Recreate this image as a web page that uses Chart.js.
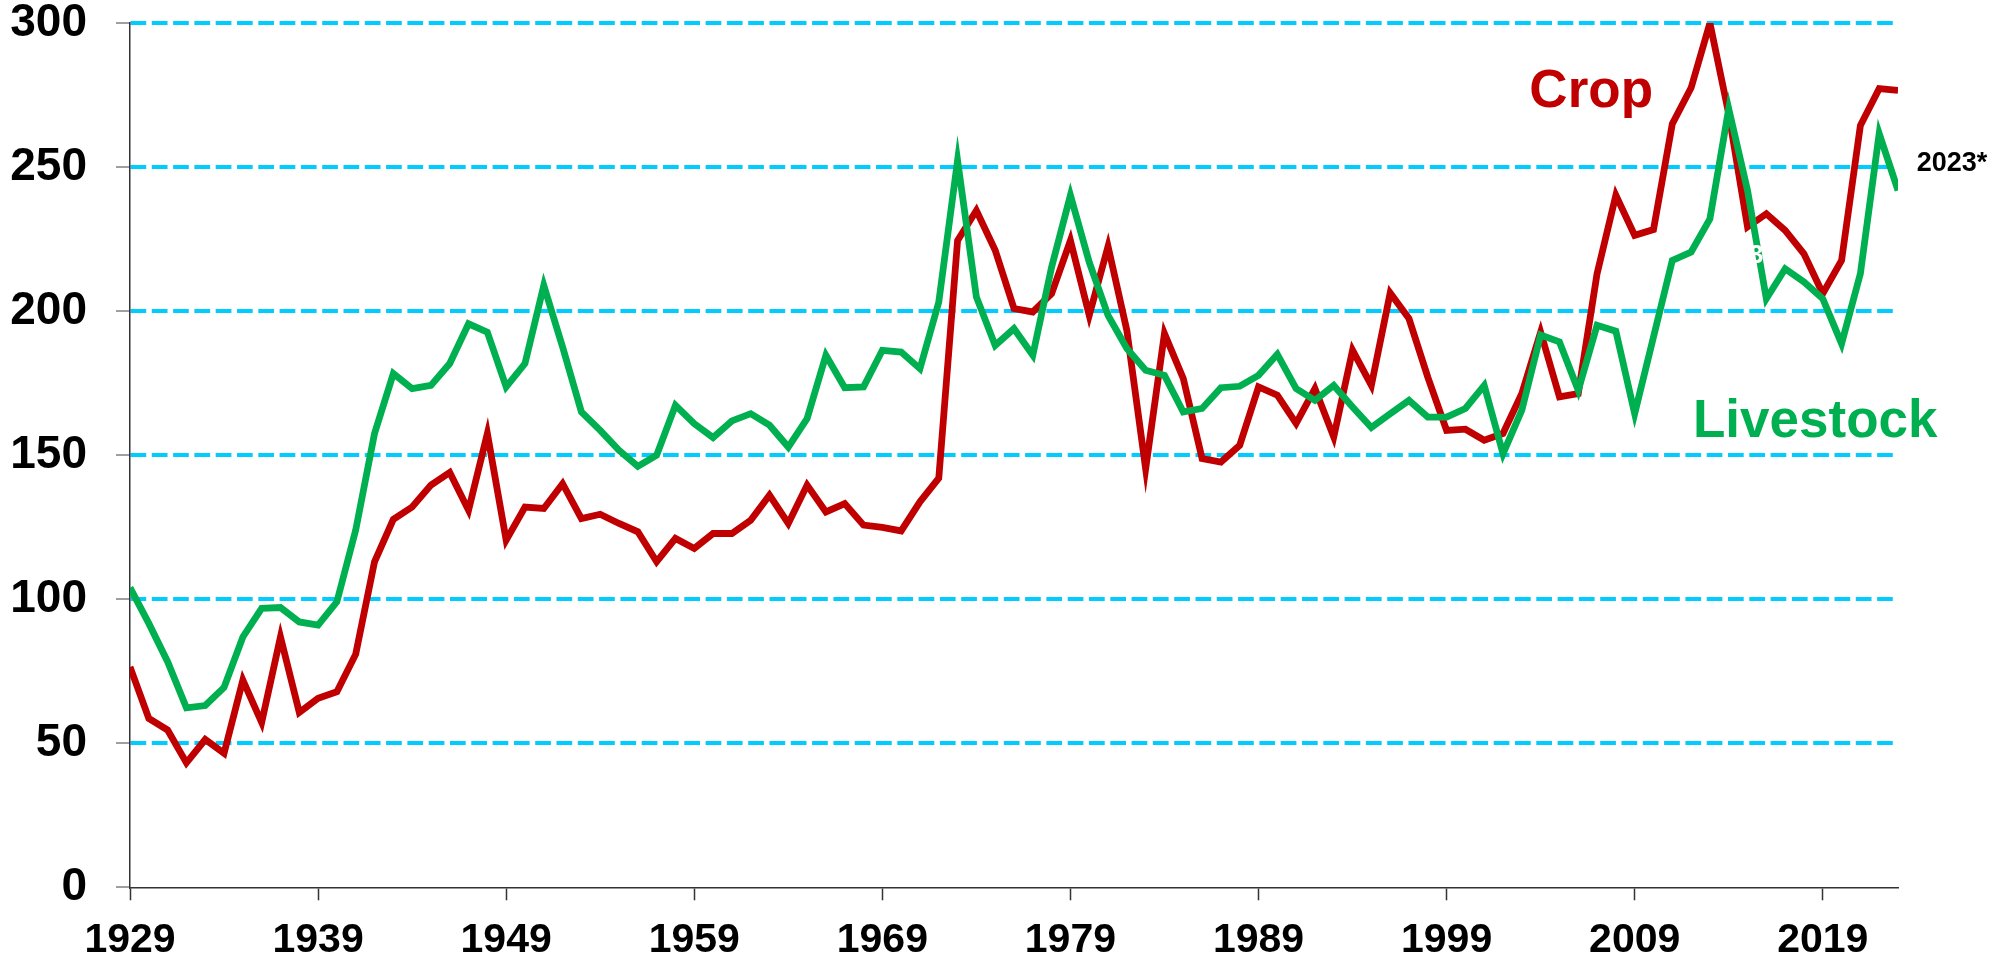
<!DOCTYPE html>
<html lang="en">
  <head>
    <meta charset="UTF-8" />
    <title>Crop and Livestock</title>
    <style>
      body {
        margin: 0;
        background: #ffffff;
      }
      canvas {
        display: block;
      }
    </style>
    <script src="https://cdn.jsdelivr.net/npm/chart.js@4"></script>
  </head>
  <body>
    <canvas id="farmChart" width="1995" height="961"></canvas>

    <script>
      const years = [
        1929, 1930, 1931, 1932, 1933, 1934, 1935, 1936, 1937, 1938,
        1939, 1940, 1941, 1942, 1943, 1944, 1945, 1946, 1947, 1948,
        1949, 1950, 1951, 1952, 1953, 1954, 1955, 1956, 1957, 1958,
        1959, 1960, 1961, 1962, 1963, 1964, 1965, 1966, 1967, 1968,
        1969, 1970, 1971, 1972, 1973, 1974, 1975, 1976, 1977, 1978,
        1979, 1980, 1981, 1982, 1983, 1984, 1985, 1986, 1987, 1988,
        1989, 1990, 1991, 1992, 1993, 1994, 1995, 1996, 1997, 1998,
        1999, 2000, 2001, 2002, 2003, 2004, 2005, 2006, 2007, 2008,
        2009, 2010, 2011, 2012, 2013, 2014, 2015, 2016, 2017, 2018,
        2019, 2020, 2021, 2022, 2023,
      ];

      const cropValues = [
        76.5, 58.6, 54.6, 43.2, 51.3, 46.5, 71.9, 57.2, 86.9, 60.7,
        65.6, 67.9, 80.9, 113, 127.7, 132, 139.6, 144, 130.9, 157.5,
        120.5, 132, 131.5, 140.1, 128, 129.5, 126.3, 123.4, 113, 121.1,
        117.6, 122.8, 122.8, 127.4, 136.1, 126.3, 139.6, 130.3, 133.2, 125.7,
        124.9, 123.7, 133.8, 142, 224.5, 234.9, 221.1, 200.9, 199.7, 206.1,
        224.5, 198.5, 222.5, 193.3, 145.3, 192.2, 176.6, 148.8, 147.6, 153.4,
        173.7, 170.8, 161, 173.1, 156.3, 186.4, 174.2, 206.3, 197.4, 177.1,
        158.6, 159, 155.2, 157.5, 171.4, 192.7, 170.2, 171.4, 213, 240.2,
        226.3, 228.3, 265, 277.5, 300, 268.5, 229.2, 233.8, 228, 219.9,
        206.1, 217.6, 264.4, 277.2, 276.6,
      ];

      const livestockValues = [
        104, 91.6, 78.3, 62.3, 63.1, 69.4, 86.9, 96.8, 97.1, 92.1,
        91, 99.1, 124, 157.5, 178.3, 173.1, 174.2, 181.8, 195.6, 192.7,
        173.7, 181.8, 208.9, 187.5, 165, 158.6, 151.7, 146.1, 150, 167.3,
        160.9, 156.1, 161.9, 164.4, 160.4, 152.8, 162.7, 184.7, 173.4, 173.7,
        186.4, 185.8, 180, 203.1, 252.3, 204.9, 188.1, 193.9, 184.7, 215.3,
        240.2, 217, 198.5, 187, 179.5, 177.7, 165, 166.2, 173.4, 173.9,
        177.7, 185, 173.1, 169, 174.2, 166.7, 159.6, 164.4, 169, 163.2,
        163.2, 166.2, 174.2, 150.5, 165.6, 191.7, 189.3, 172.5, 195.1, 193,
        164.4, 191, 217.6, 220.5, 232, 270.2, 241.9, 204.3, 214.7, 210.1,
        204.3, 188.7, 213, 261.6, 241.9,
      ];

      const xTickYears = [1929, 1939, 1949, 1959, 1969, 1979, 1989, 1999, 2009, 2019];
      const yTickValues = [0, 50, 100, 150, 200, 250, 300];

      const fontFamily = '"Liberation Sans", Arial, sans-serif';

      // text labels placed in data coordinates: [text, year, value, size, color]
      const chartLabels = [
        ["Crop", 2003.4, 270.7, 53, "#c00000"],
        ["Livestock", 2012.1, 156.2, 53, "#00b050"],
        ["2023*", 2024.0, 248.8, 27, "#000000"],
        ["3", 2015.1, 216.6, 25, "#ffffff"],
      ];

      const labelPlugin = {
        id: "seriesLabels",
        afterDatasetsDraw(chart) {
          const ctx = chart.ctx;
          const xs = chart.scales.x;
          const ys = chart.scales.y;
          ctx.save();
          ctx.textAlign = "left";
          ctx.textBaseline = "alphabetic";
          chartLabels.forEach(([text, year, value, size, color]) => {
            ctx.font = "bold " + size + "px " + fontFamily;
            ctx.fillStyle = color;
            ctx.fillText(text, xs.getPixelForValue(year), ys.getPixelForValue(value));
          });
          ctx.restore();
        },
      };

      const toPoints = (vals) => vals.map((v, i) => ({ x: years[i], y: v }));

      new Chart(document.getElementById("farmChart").getContext("2d"), {
        type: "line",
        data: {
          datasets: [
            {
              label: "Livestock",
              data: toPoints(livestockValues),
              borderColor: "#00b050",
              borderWidth: 6.8,
              pointRadius: 0,
              tension: 0,
              fill: false,
              order: 0,
            },
            {
              label: "Crop",
              data: toPoints(cropValues),
              borderColor: "#c00000",
              borderWidth: 6.8,
              pointRadius: 0,
              tension: 0,
              fill: false,
              order: 1,
            },
          ],
        },
        options: {
          responsive: false,
          animation: false,
          layout: { padding: { top: 23, right: 97, left: 0, bottom: 0 } },
          plugins: {
            legend: { display: false },
            tooltip: { enabled: false },
          },
          scales: {
            x: {
              type: "linear",
              min: 1929,
              max: 2023,
              afterBuildTicks: (scale) => {
                scale.ticks = xTickYears.map((v) => ({ value: v }));
              },
              afterFit: (scale) => {
                scale.height = 73.7;
                scale.paddingLeft = 0;
                scale.paddingRight = 0;
              },
              ticks: {
                autoSkip: false,
                maxRotation: 0,
                padding: 16,
                color: "#000000",
                font: { family: fontFamily, size: 41, weight: "bold" },
                callback: (v) => String(v),
              },
              grid: {
                drawOnChartArea: false,
                drawTicks: true,
                tickLength: 13,
                tickColor: "#333333",
                tickWidth: 1.5,
              },
              border: { display: true, color: "#333333", width: 1.5 },
            },
            y: {
              min: 0,
              max: 300,
              afterBuildTicks: (scale) => {
                scale.ticks = yTickValues.map((v) => ({ value: v }));
              },
              afterFit: (scale) => {
                scale.width = 130;
                scale.paddingTop = 0;
                scale.paddingBottom = 0;
              },
              ticks: {
                padding: 29,
                color: "#000000",
                font: { family: fontFamily, size: 46, weight: "bold" },
                callback: (v) => String(v),
              },
              grid: {
                color: (c) => (c.tick && c.tick.value === 0 ? "rgba(0,0,0,0)" : "#00ccff"),
                lineWidth: 4,
                drawTicks: true,
                tickLength: 14,
                tickColor: "#7f7f7f",
                tickWidth: 1.5,
              },
              border: { display: true, color: "#333333", width: 1.5, dash: [15.7, 5.6] },
            },
          },
        },
        plugins: [labelPlugin],
      });
    </script>
  </body>
</html>
